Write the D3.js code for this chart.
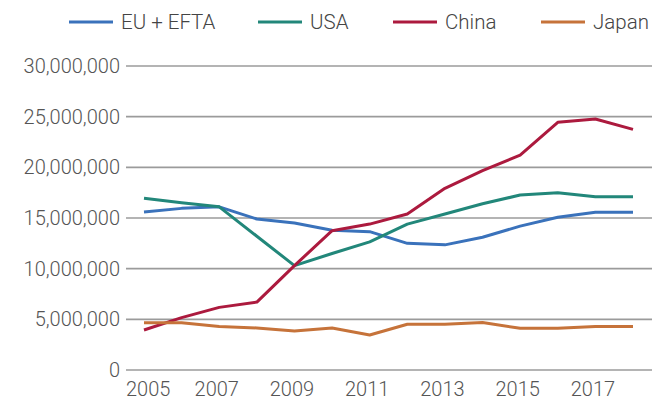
<!DOCTYPE html>
<html>
<head>
<meta charset="utf-8">
<script src="https://cdn.jsdelivr.net/npm/d3@7"></script>
<style>
  html, body { margin: 0; padding: 0; background: #fff; }
  svg { display: block; }
  text { font-family: Roboto, "Liberation Sans", sans-serif; font-weight: 300; }
</style>
</head>
<body>
<svg id="chart" width="652" height="400"></svg>
<script>
const years = [2005, 2006, 2007, 2008, 2009, 2010, 2011, 2012, 2013, 2014, 2015, 2016, 2017, 2018];
const xTickYears = [2005, 2007, 2009, 2011, 2013, 2015, 2017];
const yTicks = [0, 5000000, 10000000, 15000000, 20000000, 25000000, 30000000];

const seriesNames = ["EU + EFTA", "USA", "China", "Japan"];
const seriesColors = ["#3a72bb", "#22877a", "#ac1a3e", "#c6733a"];

const euEfta = [15600000, 15950000, 16100000, 14900000, 14500000, 13800000, 13650000, 12500000, 12350000, 13100000, 14200000, 15070000, 15560000, 15560000];
const usa    = [16950000, 16500000, 16100000, 13200000, 10300000, 11500000, 12650000, 14400000, 15400000, 16400000, 17270000, 17500000, 17100000, 17100000];
const china  = [3950000, 5170000, 6180000, 6700000, 10300000, 13750000, 14400000, 15400000, 17930000, 19670000, 21200000, 24440000, 24770000, 23750000];
const japan  = [4670000, 4670000, 4300000, 4150000, 3840000, 4140000, 3450000, 4520000, 4520000, 4680000, 4120000, 4120000, 4290000, 4290000];

const seriesValues = [euEfta, usa, china, japan];

const svg = d3.select("#chart");

const x = d3.scaleLinear().domain([2005, 2018]).range([144, 633]);
const y = d3.scaleLinear().domain([0, 30000000]).range([370, 66]);

// gridlines
svg.append("g")
  .selectAll("line")
  .data(yTicks)
  .join("line")
  .attr("x1", 126)
  .attr("x2", 652)
  .attr("y1", d => y(d))
  .attr("y2", d => y(d))
  .attr("stroke", "#9b9b9b")
  .attr("stroke-width", 1.6);

// y labels
const fmt = d3.format(",");
svg.append("g")
  .selectAll("text")
  .data(yTicks)
  .join("text")
  .attr("x", 120)
  .attr("y", d => y(d))
  .attr("dy", "0.35em")
  .attr("text-anchor", "end")
  .attr("font-size", 20)
  .attr("fill", "#555")
  .text(d => fmt(d));

// x labels
const xl = svg.append("g")
  .selectAll("text")
  .data(xTickYears)
  .join("text")
  .attr("x", d => x(d) - 2.5)
  .attr("y", 396)
  .attr("text-anchor", "middle")
  .attr("font-size", 20)
  .attr("fill", "#555")
  .text(d => d);
// keep first label inside the plot's left edge
xl.each(function(d) {
  const w = this.getBBox().width;
  const cx = Math.max(x(d) - 2.5, 126 + w / 2);
  d3.select(this).attr("x", cx);
});

// lines
const line = d3.line()
  .x((d, i) => x(years[i]))
  .y(d => y(d));

svg.append("g")
  .selectAll("path")
  .data(seriesValues)
  .join("path")
  .attr("d", d => line(d))
  .attr("fill", "none")
  .attr("stroke", (d, i) => seriesColors[i])
  .attr("stroke-width", 3)
  .attr("stroke-linejoin", "round");

// legend
const legendX = [69, 258, 393, 541];
const lg = svg.append("g")
  .selectAll("g")
  .data(seriesNames)
  .join("g")
  .attr("transform", (d, i) => `translate(${legendX[i]},22)`);
lg.append("line")
  .attr("x1", 0).attr("x2", 44)
  .attr("y1", 0).attr("y2", 0)
  .attr("stroke", (d, i) => seriesColors[i])
  .attr("stroke-width", 3);
lg.append("text")
  .attr("x", 52)
  .attr("y", 7)
  .attr("font-size", 20.5)
  .attr("fill", "#444")
  .text(d => d);
</script>
</body>
</html>
